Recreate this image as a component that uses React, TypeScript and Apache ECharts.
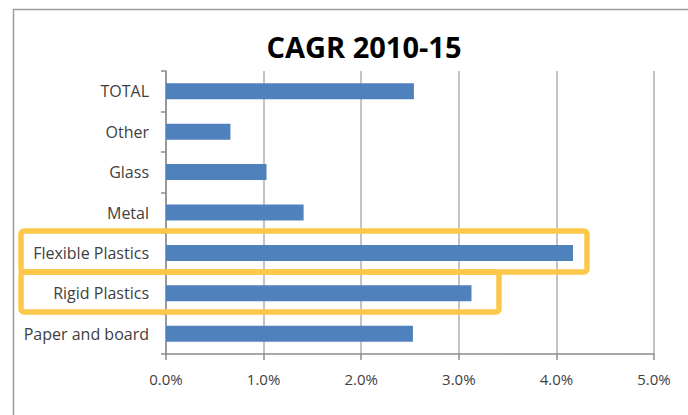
import React, { useEffect, useRef } from "react";
import * as echarts from "echarts";

const categories = ["TOTAL", "Other", "Glass", "Metal", "Flexible Plastics", "Rigid Plastics", "Paper and board"];
const cagrValues = [2.54, 0.66, 1.03, 1.41, 4.17, 3.13, 2.53];
const xTicks = { min: 0, max: 5, interval: 1 };
const title = "CAGR 2010-15";

export default function App() {
  const ref = useRef<HTMLDivElement>(null);
  useEffect(() => {
    if (!ref.current) return;
    const chart = echarts.init(ref.current, null, { renderer: "svg" });
    chart.setOption({
      animation: false,
      backgroundColor: "#ffffff",
      title: {
        text: title,
        left: 359,
        top: 27,
        textAlign: "center",
        textStyle: { fontFamily: "Open Sans", fontWeight: "bold", fontSize: 29, color: "#000000" },
      },
      grid: { left: 166, right: 34, top: 71, bottom: 61 },
      xAxis: {
        type: "value",
        min: xTicks.min,
        max: xTicks.max,
        interval: xTicks.interval,
        axisLine: { show: true, lineStyle: { color: "#8c8c8c", width: 1.5 } },
        axisTick: { show: true, length: 6, lineStyle: { color: "#8c8c8c", width: 1.5 } },
        splitLine: { show: true, lineStyle: { color: "#b0b0b0", width: 1.5 } },
        axisLabel: {
          formatter: (v: number) => v.toFixed(1) + "%",
          color: "#404040",
          fontFamily: "Open Sans",
          fontSize: 15,
          margin: 17,
        },
      },
      yAxis: {
        type: "category",
        data: categories,
        inverse: true,
        axisLine: { show: true, lineStyle: { color: "#8c8c8c", width: 1.5 } },
        axisTick: { show: true, length: 5, lineStyle: { color: "#8c8c8c", width: 1.5 } },
        axisLabel: { color: "#404040", fontFamily: "Open Sans", fontSize: 16, margin: 17 },
      },
      series: [
        {
          type: "bar",
          data: cagrValues,
          barWidth: 16,
          itemStyle: { color: "#4f81bd" },
        },
      ],
      graphic: [
        {
          type: "rect",
          shape: { x: 13.5, y: 9.5, width: 700, height: 420 },
          style: { fill: "none", stroke: "#9a9a9a", lineWidth: 1.5 },
          silent: true,
        },
        {
          type: "rect",
          shape: { x: 21, y: 231, width: 566, height: 41, r: 3 },
          style: { fill: "none", stroke: "#fcc84a", lineWidth: 5.5 },
          silent: true,
          z: 100,
        },
        {
          type: "rect",
          shape: { x: 21, y: 272, width: 478, height: 40, r: 3 },
          style: { fill: "none", stroke: "#fcc84a", lineWidth: 5.5 },
          silent: true,
          z: 100,
        },
      ],
    });
    return () => chart.dispose();
  }, []);
  return <div ref={ref} style={{ position: "fixed", left: 0, top: 0, width: 688, height: 415 }} />;
}
